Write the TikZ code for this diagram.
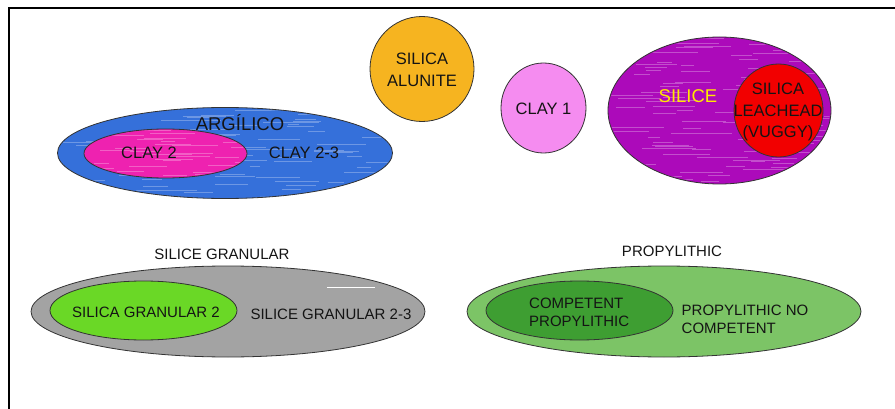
\documentclass[tikz,border=0pt]{standalone}
\usepackage{fontspec}
\setmainfont{Liberation Sans}
\usetikzlibrary{shapes.geometric}
\definecolor{txt}{HTML}{141414}
\definecolor{cblue}{HTML}{3570DA}
\definecolor{cpink}{HTML}{EE22B0}
\definecolor{calun}{HTML}{F6B420}
\definecolor{cclay}{HTML}{F58CF0}
\definecolor{cpurp}{HTML}{AC0ABA}
\definecolor{cred}{HTML}{F20000}
\definecolor{cgray}{HTML}{A3A3A3}
\definecolor{cgrn}{HTML}{6AD826}
\definecolor{cprop}{HTML}{7CC466}
\definecolor{ccomp}{HTML}{3E9E32}
\definecolor{cyel}{HTML}{FFE800}
\tikzset{
  zone/.style={ellipse, draw=black!80, line width=0.8pt, inner sep=0pt},
  lbl/.style={text=txt, inner sep=0pt, align=center},
  fbig/.style={font=\fontsize{18.5}{22}\selectfont},
  fmid/.style={font=\fontsize{16.5}{21.5}\selectfont},
  fsml/.style={font=\fontsize{15}{18}\selectfont},
  frame/.style={line width=2.4pt, draw=black},
  streak/.style={white, opacity=0.28, line width=0.9pt},
}
\newcommand{\mystreaks}[6]{% cx cy rx ry, y-step, seed
  \begin{scope}
    \pgfmathsetmacro\myrx{#3-1}
    \pgfmathsetmacro\myry{#4-1}
    \clip (#1,#2) ellipse [x radius=\myrx, y radius=\myry];
    \pgfmathsetseed{#6}
    \pgfmathtruncatemacro\mynn{2*#4/#5}
    \foreach \k in {0,...,\mynn} {
      \pgfmathsetmacro\yy{#2-#4+\k*#5}
      \pgfmathsetmacro\yb{\yy+1.5}
      \pgfmathsetmacro\xs{#1-#3+2*#3*rnd}
      \pgfmathsetmacro\ln{12+50*rnd}
      \draw[streak] (\xs,\yy) -- ++(\ln,0);
      \pgfmathsetmacro\xt{#1-#3+2*#3*rnd}
      \pgfmathsetmacro\lt{10+40*rnd}
      \draw[streak] (\xt,\yb) -- ++(\lt,0);
    }
  \end{scope}}
\begin{document}
\begin{tikzpicture}[x=1pt,y=-1pt]
\useasboundingbox (0,0) rectangle (895,409);
\fill[white] (0,0) rectangle (895,409);
\coordinate (fa) at (9,409);
\coordinate (fb) at (9,8);
\coordinate (fc) at (895,8);
\draw[frame] (fa) -- (fb) -- (fc);

% top row
\node[zone, fill=calun, minimum width=104pt, minimum height=105pt] (alunite) at (422,69) {};
\node[lbl, fmid] (alunitet) at (422,70) {SILICA\\ALUNITE};

\node[zone, fill=cclay, minimum width=85pt, minimum height=90pt] (clay1) at (543.5,108) {};
\node[lbl, fmid] (clay1t) at (543.5,108.5) {CLAY 1};

\node[zone, fill=cpurp, minimum width=223pt, minimum height=147pt] (silice) at (719.5,110.5) {};
\mystreaks{719.5}{110.5}{111.5}{73.5}{3}{11}
\node[zone, fill=cred, minimum width=89pt, minimum height=93pt] (leach) at (778.5,110.5) {};
\node[lbl, fbig, text=cyel] (silicet) at (688,96) {SILICE};
\node[lbl, fmid] (leacht) at (778,112) {SILICA\\LEACHEAD\\(VUGGY)};

\node[zone, fill=cblue, minimum width=335pt, minimum height=91pt] (arg) at (225,153) {};
\mystreaks{225}{153}{167.5}{45.5}{2.5}{5}
\node[zone, fill=cpink, minimum width=163pt, minimum height=49pt] (clay2) at (165.5,153.5) {};
\mystreaks{165.5}{153.5}{81.5}{24.5}{3}{9}
\node[lbl, fbig] (argt) at (240,123) {ARGÍLICO};
\node[lbl, fmid] (clay2t) at (149,152.5) {CLAY 2};
\node[lbl, fmid] (clay23t) at (304,152.5) {CLAY 2-3};

% bottom row
\node[lbl, fsml] (granlab) at (222,254) {SILICE GRANULAR};
\node[zone, fill=cgray, minimum width=394pt, minimum height=91pt] (gran) at (228,311.5) {};
\node[zone, fill=cgrn, minimum width=187pt, minimum height=59pt] (gran2) at (143.5,310.5) {};
\coordinate (wa) at (327,287);
\coordinate (wb) at (375,287);
\draw[white, line width=1pt] (wa) -- (wb);
\node[lbl, fsml] (gran2t) at (146,312.8) {SILICA GRANULAR 2};
\node[lbl, fsml] (gran23t) at (331,314) {SILICE GRANULAR 2-3};

\node[lbl, fsml] (proplab) at (672,251) {PROPYLITHIC};
\node[zone, fill=cprop, minimum width=394pt, minimum height=91pt] (prop) at (664,311.5) {};
\node[zone, fill=ccomp, minimum width=187pt, minimum height=59pt] (comp) at (579.5,310.5) {};
\node[lbl, fsml, anchor=west, align=left] (compt) at (529,312.5) {COMPETENT\\PROPYLITHIC};
\node[lbl, fsml, anchor=west, align=left] (propnt) at (681.5,319) {PROPYLITHIC NO\\COMPETENT};
\end{tikzpicture}
\end{document}
